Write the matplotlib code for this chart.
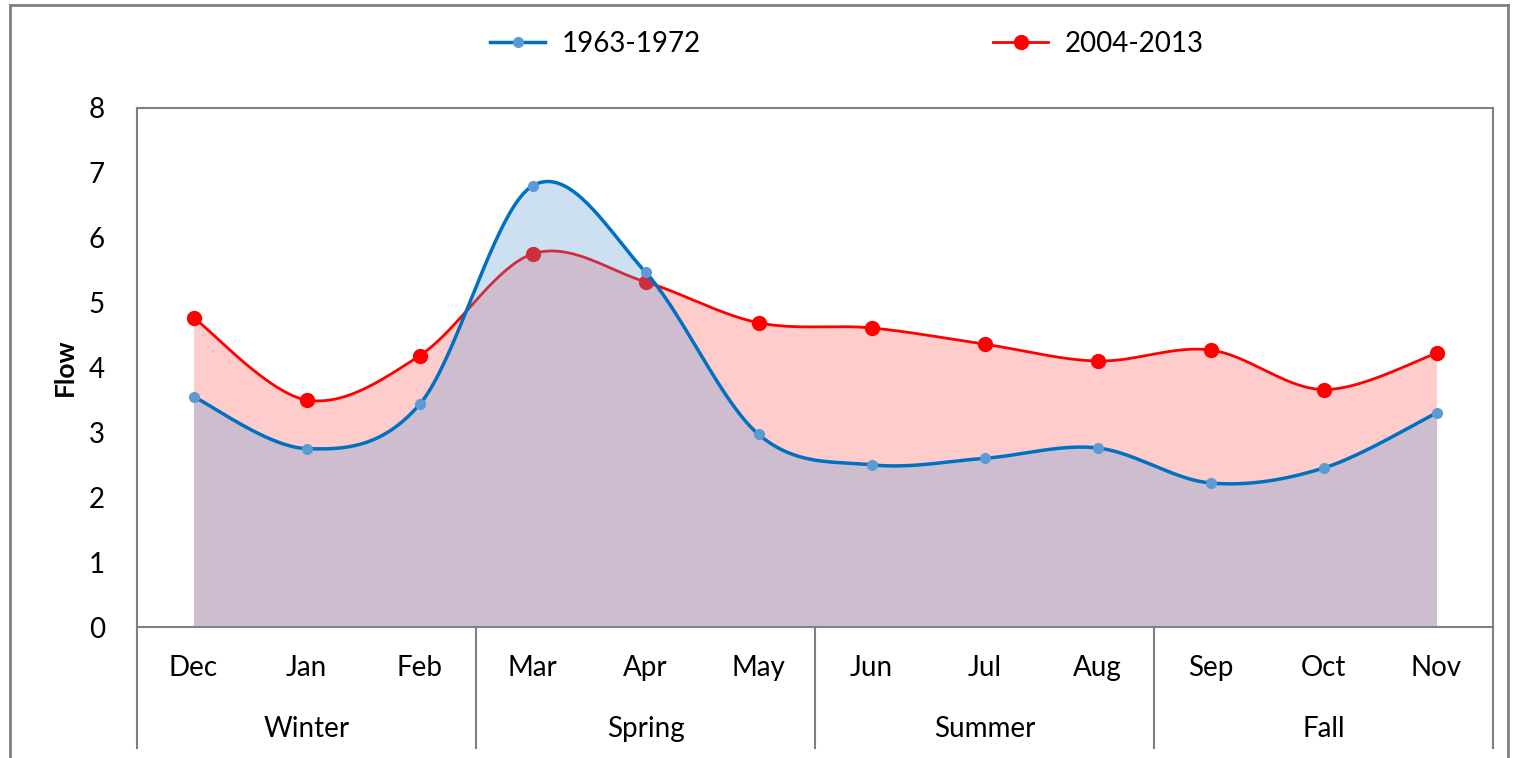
import numpy as np
import matplotlib
matplotlib.use("Agg")
import matplotlib.pyplot as plt
from matplotlib.lines import Line2D

plt.rcParams['font.family'] = ['Lato', 'DejaVu Sans']

months = ['Dec', 'Jan', 'Feb', 'Mar', 'Apr', 'May',
          'Jun', 'Jul', 'Aug', 'Sep', 'Oct', 'Nov']
seasons = ['Winter', 'Spring', 'Summer', 'Fall']
flow_1963 = [3.55, 2.75, 3.43, 6.80, 5.47, 2.97, 2.50, 2.60, 2.76, 2.22, 2.45, 3.30]
flow_2004 = [4.77, 3.50, 4.18, 5.75, 5.32, 4.69, 4.61, 4.36, 4.10, 4.27, 3.66, 4.22]


def smooth(x, y, n=40):
    """Excel-like smoothed line: Catmull-Rom segments as cubic Beziers"""
    x = np.asarray(x, float)
    y = np.asarray(y, float)
    px = np.concatenate([[x[0]], x, [x[-1]]])
    py = np.concatenate([[y[0]], y, [y[-1]]])
    t = np.linspace(0, 1, n)[:, None]
    xs, ys = [], []
    for i in range(1, len(x)):
        p0 = np.array([px[i], py[i]])
        p3 = np.array([px[i + 1], py[i + 1]])
        c1 = p0 + (p3 - np.array([px[i - 1], py[i - 1]])) / 6
        c2 = p3 - (np.array([px[i + 2], py[i + 2]]) - p0) / 6
        pts = ((1 - t) ** 3 * p0 + 3 * (1 - t) ** 2 * t * c1
               + 3 * (1 - t) * t ** 2 * c2 + t ** 3 * p3)
        xs.append(pts[:, 0])
        ys.append(pts[:, 1])
    return np.concatenate(xs), np.concatenate(ys)


FS = 20

fig = plt.figure(figsize=(15.14, 7.58), dpi=100)
ax = fig.add_axes([137 / 1514, 1 - 627 / 758, (1493 - 137) / 1514, (627 - 108) / 758])

x = np.arange(len(months))

# 2004-2013 (drawn below)
sx, sy = smooth(x, flow_2004)
ax.fill_between(sx, 0, sy, color='#ff0000', alpha=0.2, lw=0, zorder=1)
ax.plot(sx, sy, color='#ff0000', lw=2, zorder=2)
ax.plot(x, flow_2004, 'o', color='#ff0000', ms=10, zorder=2)

# 1963-1972 (drawn on top)
sx, sy = smooth(x, flow_1963)
ax.fill_between(sx, 0, sy, color='#5b9bd5', alpha=0.3, lw=0, zorder=3)
ax.plot(sx, sy, color='#0070c0', lw=2.5, zorder=4)
ax.plot(x, flow_1963, 'o', color='#5b9bd5', ms=7, zorder=5)

ax.set_xlim(-0.5, 11.5)
ax.set_ylim(0, 8)
ax.set_yticks(range(0, 9))
ax.tick_params(axis='y', length=0, labelsize=FS, pad=23)
ax.set_xticks([])
for s in ax.spines.values():
    s.set_color('#808080')
    s.set_linewidth(1.5)
ax.set_ylabel('Flow', fontsize=FS - 1, fontweight='bold', labelpad=9)

# two-level category axis
for i, m in enumerate(months):
    ax.text(i, -0.63, m, ha='center', va='center', fontsize=FS, clip_on=False)
for j, s in enumerate(seasons):
    ax.text(3 * j + 1, -1.57, s, ha='center', va='center', fontsize=FS,
            clip_on=False)
for b in [-0.5, 2.5, 5.5, 8.5, 11.5]:
    ax.plot([b, b], [0, -1.86], color='#808080', lw=1.5, clip_on=False)

# legend
h1 = Line2D([], [], color='#0070c0', lw=2.5, marker='o', ms=7,
            markerfacecolor='#5b9bd5', markeredgecolor='#5b9bd5')
h2 = Line2D([], [], color='#ff0000', lw=2, marker='o', ms=10)
fig.legend([h1, h2], ['1963-1972', '2004-2013'], loc='center',
           bbox_to_anchor=(847 / 1514, 1 - 44 / 758), ncol=2, frameon=False,
           fontsize=FS, handlelength=2.0, columnspacing=10.5, handletextpad=0.6)

# outer frame
frame = dict(color='#808080', lw=2, transform=fig.transFigure)
fig.add_artist(Line2D([10 / 1514, 10 / 1514], [0, 1 - 5 / 758], **frame))
fig.add_artist(Line2D([1508 / 1514, 1508 / 1514], [0, 1 - 5 / 758], **frame))
fig.add_artist(Line2D([10 / 1514, 1508 / 1514], [1 - 5 / 758, 1 - 5 / 758], **frame))

fig.savefig('out.png', dpi=100, facecolor='white')
